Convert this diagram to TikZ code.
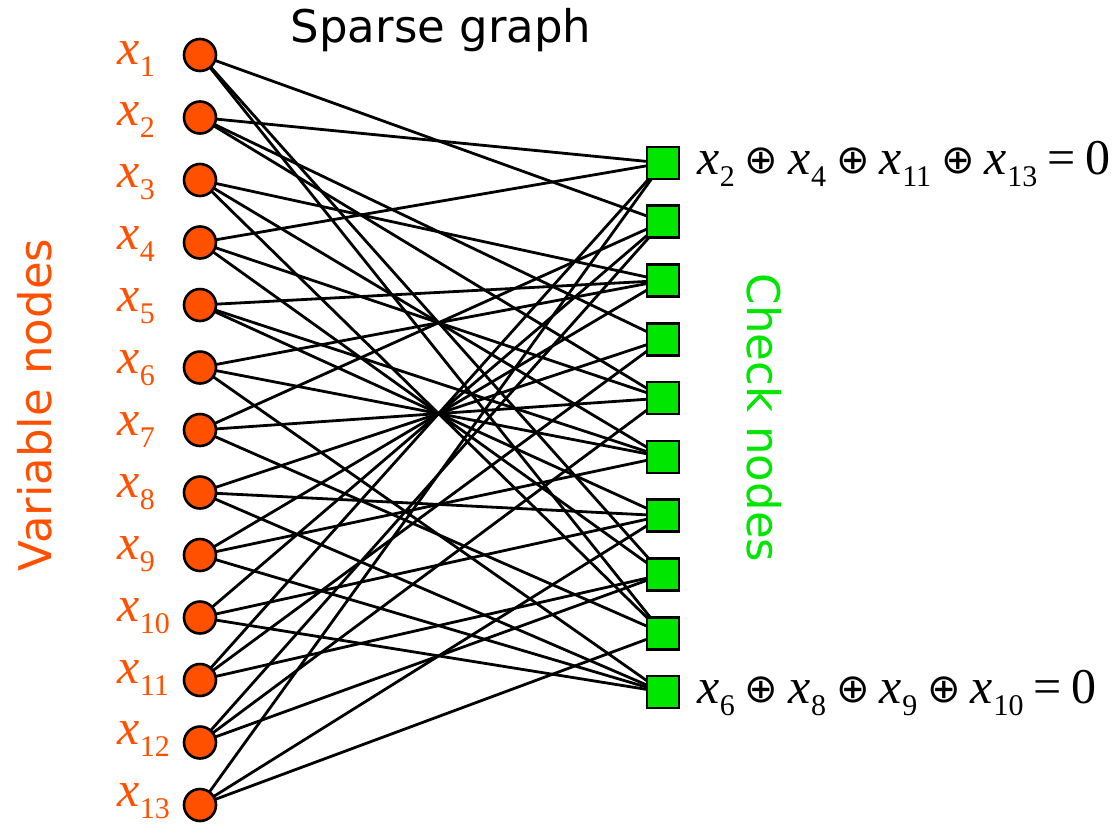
\documentclass[tikz,border=0pt]{standalone}
\usepackage{fontspec}
\setmainfont{Liberation Serif}
\newfontfamily\labelsans{DejaVu Sans}
\newfontfamily\symfont{DejaVu Sans}
\usetikzlibrary{backgrounds}
\definecolor{varorange}{RGB}{255,80,0}
\definecolor{chkgreen}{RGB}{0,230,0}
% italic x with a lowered subscript index
\newcommand\xsub[2]{\textit{x}\kern0.5pt\raisebox{-0.24em}{\fontsize{#2}{#2}\selectfont #1}}
\newcommand\xorop{\hspace{10pt}{\symfont\fontsize{40}{40}\selectfont\raisebox{1pt}{⊕}}\hspace{10pt}}
\begin{document}
\begin{tikzpicture}[x=1pt,y=-1pt,
  varnode/.style={circle,draw=black,line width=2.6pt,fill=varorange,minimum size=32pt,inner sep=0pt},
  chknode/.style={rectangle,draw=black,line width=2.6pt,fill=chkgreen,minimum size=32pt,inner sep=0pt},
  edge/.style={black,line width=2.8pt},
  varlabel/.style={anchor=base west,text=varorange,inner sep=0pt,font=\fontsize{50}{50}\selectfont},
  eqlabel/.style={anchor=base west,text=black,inner sep=0pt,font=\fontsize{50}{50}\selectfont},
  titletext/.style={font=\labelsans\fontsize{45}{45}\selectfont,inner sep=0pt}]
\useasboundingbox (0,0) rectangle (1115,825);

% variable nodes and their labels
\foreach \i in {1,...,13}{
  \node[varnode] (v\i) at (200,{55+62.5*(\i-1)}) {};
  \node[varlabel] (lx\i) at (117,{64+61.9*(\i-1)}) {\xsub{\i}{30}};
}
% check nodes
\foreach \j in {1,...,10}{
  \node[chknode] (c\j) at (663,{163+58.78*(\j-1)}) {};
}

% edges of the bipartite graph (variable/check)
\begin{pgfonlayer}{background}
\foreach \v/\c in {
  1/2, 1/8, 1/9,
  2/1, 2/4, 2/5,
  3/3, 3/6, 3/9,
  4/1, 4/5, 4/8,
  5/3, 5/6, 5/7,
  6/3, 6/6, 6/10,
  7/2, 7/5, 7/9,
  8/4, 8/7, 8/10,
  9/3, 9/6, 9/10,
  10/2, 10/7, 10/10,
  11/1, 11/4, 11/8,
  12/2, 12/5, 12/8,
  13/1, 13/7, 13/9}
  \draw[edge] (v\v.center) -- (c\c.center);
\end{pgfonlayer}

% parity equations of the first and last checks
\node[eqlabel] (eq1) at (697,{163+11}) {\xsub{2}{30}\xorop\xsub{4}{30}\xorop\xsub{11}{30}\xorop\xsub{13}{30}\hspace{10pt}=\hspace{10pt}0};
\node[eqlabel] (eq2) at (697,{692+11}) {\xsub{6}{30}\xorop\xsub{8}{30}\xorop\xsub{9}{30}\xorop\xsub{10}{30}\hspace{10pt}=\hspace{10pt}0};

% titles
\node[titletext,text=black] (title) at (441,30) {Sparse graph};
\node[titletext,text=varorange,rotate=90] (vtitle) at (35,405) {Variable nodes};
\node[titletext,text=chkgreen,rotate=-90] (ctitle) at (764,418) {Check nodes};
\end{tikzpicture}
\end{document}
